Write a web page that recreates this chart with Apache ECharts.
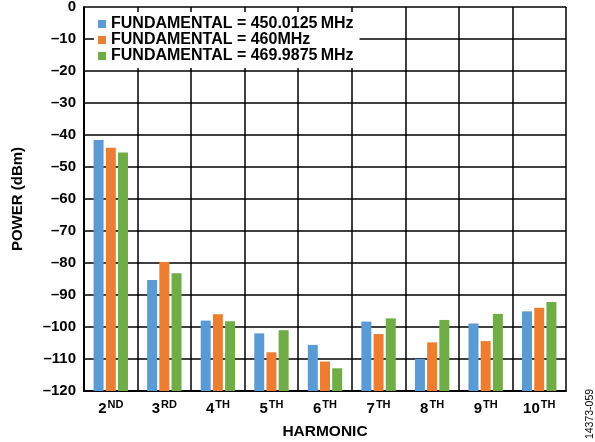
<!DOCTYPE html>
<html><head><meta charset="utf-8">
<script src="https://cdn.jsdelivr.net/npm/echarts@6/dist/echarts.min.js"></script>
<style>html,body{margin:0;padding:0;background:#fff}#c{width:595px;height:442px}</style>
</head><body><div id="c"></div>
<script>
var categories = ['2|ND', '3|RD', '4|TH', '5|TH', '6|TH', '7|TH', '8|TH', '9|TH', '10|TH'];
var seriesNames = ['FUNDAMENTAL = 450.0125\u2009MHz', 'FUNDAMENTAL = 460MHz', 'FUNDAMENTAL = 469.9875\u2009MHz'];
var f450 = [-41.6, -85.3, -98.0, -102.0, -105.6, -98.3, -110.0, -98.9, -95.1];
var f460 = [-44.0, -79.7, -96.0, -107.9, -110.8, -102.2, -104.8, -104.4, -94.0];
var f470 = [-45.5, -83.2, -98.2, -101.0, -112.9, -97.3, -97.8, -95.9, -92.2];
var colors = ['#5b9bd5', '#ed7d31', '#70ad47'];
var yMin = -120, yMax = 0, yStep = 10;

var FONT = '"Liberation Sans", Arial, sans-serif';
var chart = echarts.init(document.getElementById('c'), null, {renderer: 'canvas'});
function shift(arr) { return arr.map(function (v) { return v - yMin; }); }
var all = [f450, f460, f470];
var series = all.map(function (arr, i) {
  return {
    name: seriesNames[i], type: 'bar', data: shift(arr),
    barWidth: 10, barGap: '22%',
    itemStyle: {color: colors[i]}
  };
});
chart.setOption({
  animation: false,
  color: colors,
  textStyle: {fontFamily: FONT},
  grid: {left: 84, right: 29, top: 7, bottom: 51, containLabel: false, outerBoundsMode: 'none'},
  legend: {
    orient: 'vertical', left: 94, top: 12, padding: [4, 6, 4, 4],
    backgroundColor: '#fff', itemWidth: 8, itemHeight: 8, itemGap: 0,
    icon: 'rect',
    textStyle: {fontFamily: FONT, fontSize: 16, fontWeight: 'bold', color: '#000', lineHeight: 16},
    data: seriesNames
  },
  xAxis: {
    type: 'category', data: categories,
    name: 'HARMONIC', nameLocation: 'middle', nameGap: 33,
    nameTextStyle: {fontFamily: FONT, fontSize: 15.5, fontWeight: 'bold', color: '#000'},
    axisLine: {lineStyle: {color: '#000', width: 2}},
    axisTick: {show: false},
    splitLine: {show: true, interval: 0, lineStyle: {color: '#000', width: 1.5}},
    axisLabel: {
      interval: 0, margin: 8,
      formatter: function (v) { var p = v.split('|'); return '{n|' + p[0] + '}{s|' + p[1] + '}'; },
      rich: {
        n: {fontFamily: FONT, fontSize: 15, fontWeight: 'bold', color: '#000'},
        s: {fontFamily: FONT, fontSize: 11, fontWeight: 'bold', color: '#000', padding: [0, 0, 8, 1]}
      }
    }
  },
  yAxis: {
    type: 'value', min: 0, max: yMax - yMin, interval: yStep,
    name: 'POWER (dBm)', nameLocation: 'middle', nameGap: 59, nameRotate: 90,
    nameTextStyle: {fontFamily: FONT, fontSize: 15, fontWeight: 'bold', color: '#000'},
    axisLine: {show: true, lineStyle: {color: '#000', width: 2}},
    axisTick: {show: false},
    splitLine: {show: true, lineStyle: {color: '#000', width: 1.5}},
    axisLabel: {
      margin: 8, fontFamily: FONT, fontSize: 15, fontWeight: 'bold', color: '#000',
      formatter: function (v) { var r = v + yMin; return r < 0 ? '\u2013' + Math.abs(r) : String(r); }
    }
  },
  graphic: [{
    type: 'text', x: 590, y: 414, rotation: Math.PI / 2,
    style: {text: '14373-059', fontFamily: FONT, fontSize: 10.5, fill: '#000', align: 'center', verticalAlign: 'middle'}
  }],
  series: series
});
</script></body></html>
